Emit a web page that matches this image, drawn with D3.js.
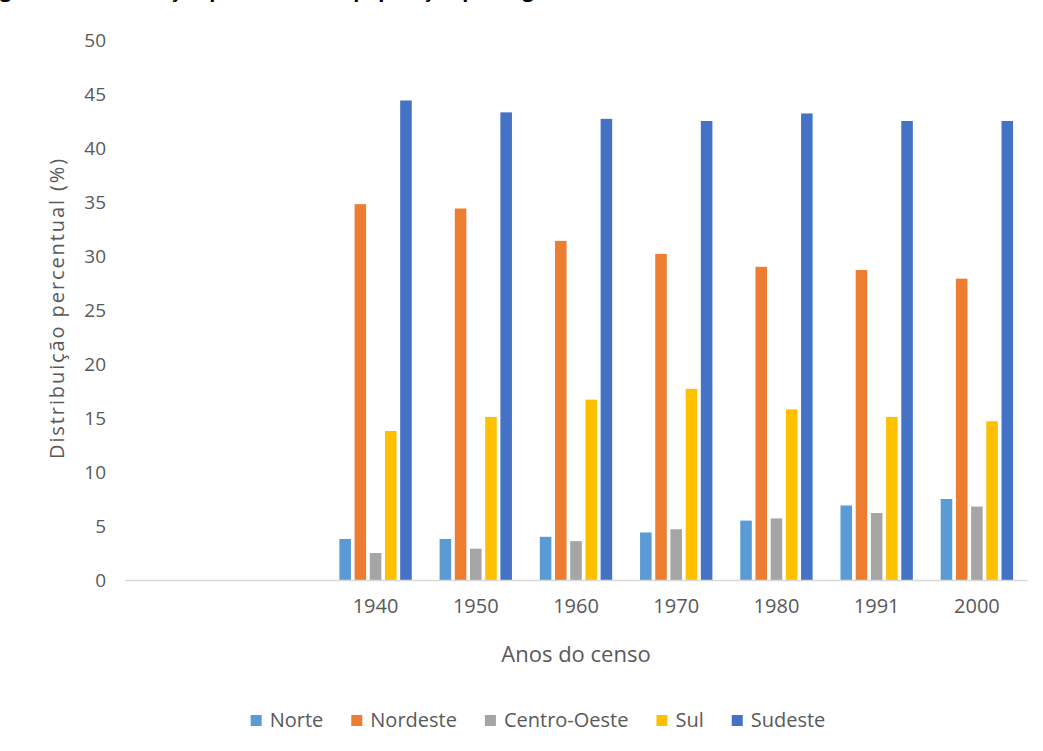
<!DOCTYPE html>
<html>
<head>
<meta charset="utf-8">
<script src="https://cdn.jsdelivr.net/npm/d3@7"></script>
<style>
  body { margin: 0; background: #fff; }
  svg { display: block; }
  text { font-family: "Open Sans", Lato, sans-serif; }
</style>
</head>
<body>
<svg id="chart" width="1043" height="751"></svg>
<script>
// ---- data ----
const titleText = "Figura 1 – Distribuição percentual da população por região – Brasil, 1940-2000";
const categories = ["", " ", "1940", "1950", "1960", "1970", "1980", "1991", "2000"];
const seriesNames = ["Norte", "Nordeste", "Centro-Oeste", "Sul", "Sudeste"];
const seriesColors = ["#5B9BD5", "#ED7D31", "#A5A5A5", "#FFC000", "#4472C4"];
const years = ["1940", "1950", "1960", "1970", "1980", "1991", "2000"];
const norte       = [3.8, 3.8, 4.0, 4.4, 5.5, 6.9, 7.5];
const nordeste    = [34.8, 34.4, 31.4, 30.2, 29.0, 28.7, 27.9];
const centroOeste = [2.5, 2.9, 3.6, 4.7, 5.7, 6.2, 6.8];
const sul         = [13.8, 15.1, 16.7, 17.7, 15.8, 15.1, 14.7];
const sudeste     = [44.4, 43.3, 42.7, 42.5, 43.2, 42.5, 42.5];
const yTicks = [0, 5, 10, 15, 20, 25, 30, 35, 40, 45, 50];
const yLabel = "Distribuição percentual (%)";
const xLabel = "Anos do censo";

const seriesValues = [norte, nordeste, centroOeste, sul, sudeste];

// ---- layout ----
const svg = d3.select("#chart");
const plot = { left: 125, right: 1027, top: 40, bottom: 580 };

const x = d3.scaleBand().domain(categories).range([plot.left, plot.right]).padding(0);
const x1 = d3.scaleBand().domain(seriesNames).range([0, 76]).paddingInner(0.24).paddingOuter(0.12);
const y = d3.scaleLinear().domain([0, 50]).range([plot.bottom, plot.top]);

// title (cut off at top, as in the reference)
svg.append("text")
  .attr("x", -17).attr("y", -3)
  .attr("font-size", 20).attr("font-weight", "bold")
  .attr("font-family", "Lato, sans-serif")
  .attr("fill", "#000")
  .text(titleText);

// bars
const groups = svg.append("g").selectAll("g")
  .data(years)
  .join("g")
  .attr("transform", d => `translate(${x(d) + x.bandwidth() / 2 - 38},0)`);

groups.selectAll("rect")
  .data((yr, i) => seriesNames.map((s, k) => ({ s, k, v: seriesValues[k][i] })))
  .join("rect")
  .attr("x", d => x1(d.s))
  .attr("width", x1.bandwidth())
  .attr("y", d => y(d.v))
  .attr("height", d => y(0) - y(d.v))
  .attr("fill", d => seriesColors[d.k]);

// x axis
const xAxis = d3.axisBottom(x).tickSize(0).tickPadding(19);
const gx = svg.append("g").attr("transform", `translate(0,${plot.bottom})`).call(xAxis);
gx.select(".domain").attr("stroke", "#D9D9D9").attr("stroke-width", 1.5);
gx.selectAll("text").attr("font-size", 20).attr("fill", "#595959")
  .attr("font-family", "'Open Sans', sans-serif");

// y axis (labels only)
const yAxis = d3.axisLeft(y).tickValues(yTicks).tickSize(0).tickPadding(19);
const gy = svg.append("g").attr("transform", `translate(${plot.left},0)`).call(yAxis);
gy.select(".domain").remove();
gy.selectAll("text").attr("font-size", 19).attr("fill", "#595959")
  .attr("font-family", "'Open Sans', sans-serif");

// axis titles
svg.append("text")
  .attr("transform", `translate(64,308) rotate(-90)`)
  .attr("text-anchor", "middle")
  .attr("font-size", 20).attr("letter-spacing", "1.9px").attr("fill", "#595959")
  .text(yLabel);

svg.append("text")
  .attr("x", 576).attr("y", 662)
  .attr("text-anchor", "middle")
  .attr("font-size", 22).attr("fill", "#595959")
  .text(xLabel);

// legend
const legend = svg.append("g");
const items = legend.selectAll("g").data(seriesNames).join("g");
items.append("rect").attr("width", 11).attr("height", 11).attr("y", -12)
  .attr("fill", (d, i) => seriesColors[i]);
items.append("text").attr("x", 19).attr("y", 0)
  .attr("font-size", 20).attr("fill", "#595959").text(d => d);
let cx = 0;
const gap = 28;
items.each(function () {
  const w = 19 + this.querySelector("text").getComputedTextLength();
  d3.select(this).attr("transform", `translate(${cx},0)`);
  cx += w + gap;
});
const totalW = cx - gap;
legend.attr("transform", `translate(${538 - totalW / 2},727)`);
</script>
</body>
</html>
